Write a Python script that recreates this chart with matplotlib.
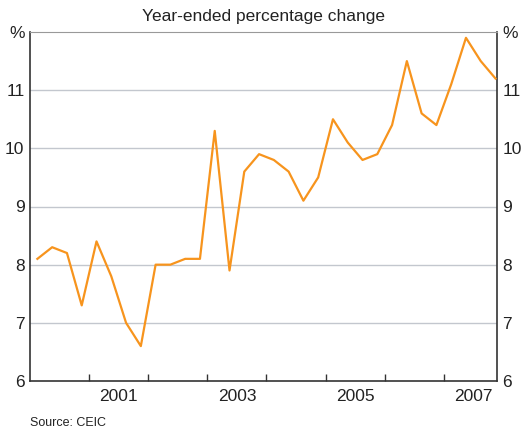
import numpy as np
import matplotlib.pyplot as plt

# quarterly, plotted mid-quarter
start_year = 2000.125
growth = [8.1, 8.3, 8.2, 7.3, 8.4, 7.8, 7.0, 6.6,
          8.0, 8.0, 8.1, 8.1, 10.3, 7.9, 9.6, 9.9,
          9.8, 9.6, 9.1, 9.5, 10.5, 10.1, 9.8, 9.9,
          10.4, 11.5, 10.6, 10.4, 11.1, 11.9, 11.5, 11.2]
year_ticks = [2001, 2002, 2003, 2004, 2005, 2006, 2007]
year_labels = ["2001", "2003", "2005", "2007"]
y_ticks = [6, 7, 8, 9, 10, 11, 12]
y_labels = ["6", "7", "8", "9", "10", "11", "%"]

x = start_year + 0.25 * np.arange(len(growth))

plt.rcParams['font.family'] = ['Liberation Sans', 'DejaVu Sans']

fig = plt.figure(figsize=(5.28, 4.30), dpi=100)
ax = fig.add_axes([30/528, 1 - 381/430, (497-30)/528, (381-32)/430])

ax.plot(x, growth, color="#F7941D", lw=1.6, zorder=3)

ax.set_xlim(2000.0, 2007.9)
ax.set_ylim(6, 12)

for v in y_ticks[1:-1]:
    ax.axhline(v, color="#C3C7CE", lw=1, zorder=1)

ax.set_yticks(y_ticks)
ax.set_yticklabels(y_labels)
ax.tick_params(axis="y", length=0, labelsize=12.5, pad=4, colors="#222222",
               labelright=True, right=False)

ax.set_xticks(year_ticks)
ax.set_xticklabels([])
ax.set_xticks([int(l) + 0.5 for l in year_labels], minor=True)
ax.set_xticklabels(year_labels, minor=True)
ax.tick_params(axis="x", which="major", direction="in", length=5, width=1, color="#333333")
ax.tick_params(axis="x", which="minor", length=0, labelsize=12.5, pad=6, colors="#222222")

for s in ax.spines.values():
    s.set_color("#333333")
    s.set_linewidth(1.2)
ax.spines["top"].set_color("#999999")
ax.spines["top"].set_linewidth(0.8)

fig.text(0.5, 1 - 17/430, "Year-ended percentage change", ha="center", va="center",
         fontsize=12.5, color="#222222")
fig.text(30/528, 1 - 423/430, "Source: CEIC", ha="left", va="center",
         fontsize=9, color="#222222")

fig.savefig("out.png", dpi=100)
